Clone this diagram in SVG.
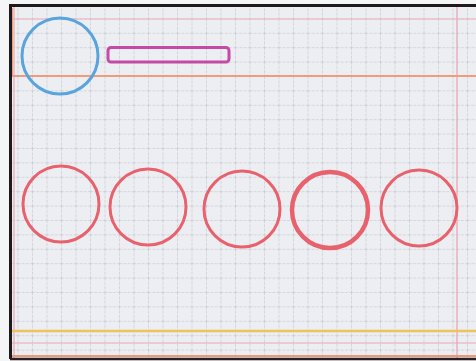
<svg xmlns="http://www.w3.org/2000/svg" width="476" height="361" viewBox="0 0 476 361">
  <defs>
    <pattern id="grid" x="3" y="4" width="14.5" height="14.4" patternUnits="userSpaceOnUse">
      <path d="M0 0H14.5M0 0V14.4" fill="none" stroke="#b9bdc8" stroke-width="1" stroke-dasharray="3 1.2"/>
    </pattern>
  </defs>
  <style>
    .ring { fill: none; stroke: #e8626e; stroke-width: 3; }
    .thin { fill: none; stroke-width: 1.2; }
  </style>
  <rect x="0" y="0" width="476" height="361" fill="#f4f5f7"/>
  <rect x="10" y="6" width="466" height="352" fill="#eceef2"/>
  <rect x="10" y="6" width="466" height="352" fill="url(#grid)"/>
  <!-- margin lines -->
  <line class="thin" x1="14" y1="6" x2="14" y2="358" stroke="#eaa6b4"/>
  <line class="thin" x1="457" y1="6" x2="457" y2="358" stroke="#e6a0b0"/>
  <line class="thin" x1="10" y1="19" x2="476" y2="19" stroke="#eeb0bc"/>
  <line class="thin" x1="10" y1="343" x2="476" y2="343" stroke="#e8a8b8"/>
  <!-- header band -->
  <line x1="12" y1="8" x2="12" y2="76" stroke="#f0a070" stroke-width="2"/>
  <line x1="10" y1="76" x2="476" y2="76" stroke="#ef9c7c" stroke-width="2.2"/>
  <!-- footer band -->
  <line x1="10" y1="331" x2="476" y2="331" stroke="#efc25e" stroke-width="2.6"/>
  <line x1="10" y1="356" x2="476" y2="356" stroke="#ef9878" stroke-width="2"/>
  <!-- frame -->
  <path d="M10.5 359V5.5H476" fill="none" stroke="#1e1a1c" stroke-width="3"/>
  <line x1="10" y1="359" x2="476" y2="359" stroke="#2a2222" stroke-width="2.5"/>
  <g id="avatar">
    <circle cx="60" cy="56" r="38" fill="none" stroke="#5aa4de" stroke-width="3"/>
  </g>
  <g id="title-bar">
    <rect x="108" y="47.5" width="121" height="14.5" rx="3" fill="none" stroke="#c44aa6" stroke-width="3"/>
  </g>
  <g id="item-1"><circle class="ring" cx="61" cy="204" r="38"/></g>
  <g id="item-2"><circle class="ring" cx="148" cy="207" r="38"/></g>
  <g id="item-3"><circle class="ring" cx="242" cy="209" r="38"/></g>
  <g id="item-4"><circle class="ring" cx="330" cy="210" r="38" style="stroke-width:4.5"/></g>
  <g id="item-5"><circle class="ring" cx="419" cy="208" r="38"/></g>
  <g id="connectors"></g>
</svg>
